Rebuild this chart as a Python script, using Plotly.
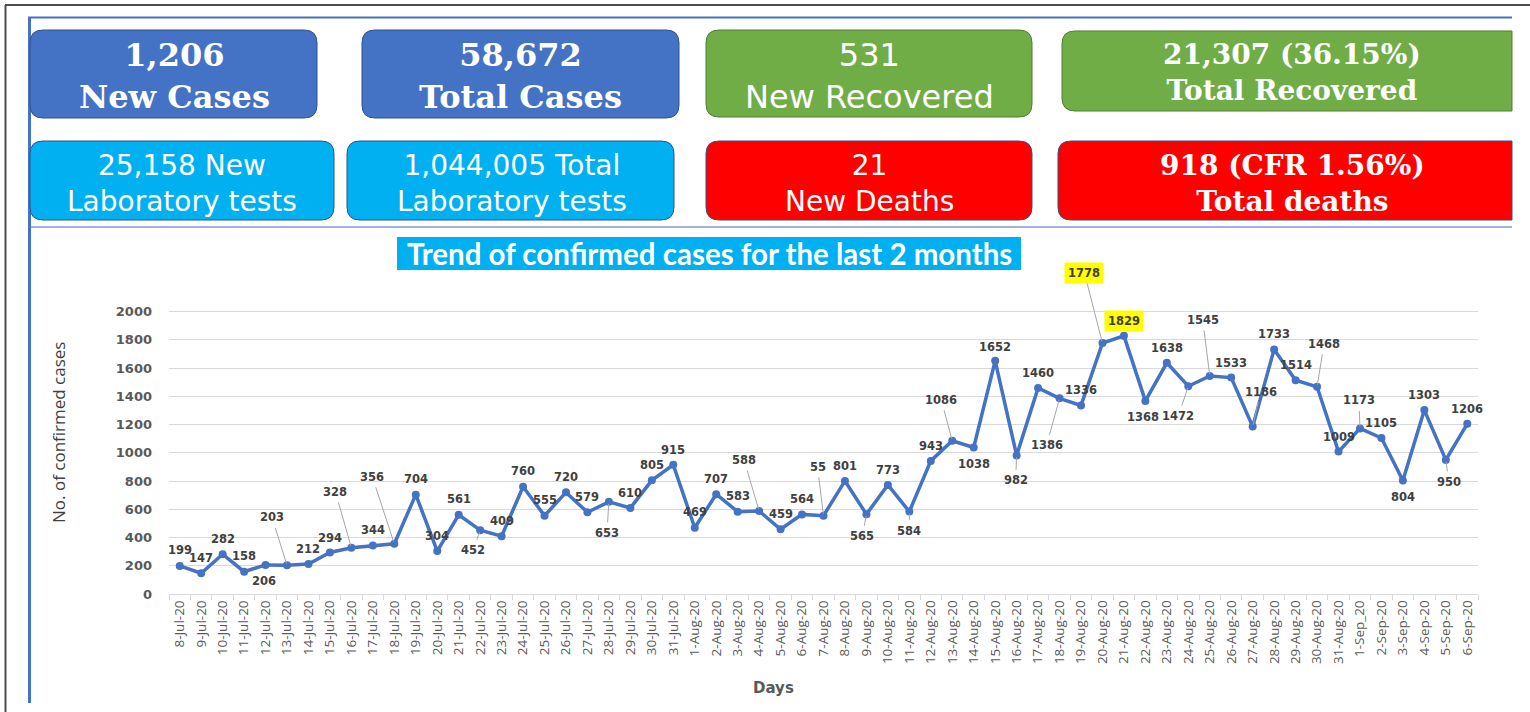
import plotly.graph_objects as go

W, H = 1530, 712

# ---------------- data ----------------
days = ["8-Jul-20", "9-Jul-20", "10-Jul-20", "11-Jul-20", "12-Jul-20", "13-Jul-20", "14-Jul-20",
        "15-Jul-20", "16-Jul-20", "17-Jul-20", "18-Jul-20", "19-Jul-20", "20-Jul-20", "21-Jul-20",
        "22-Jul-20", "23-Jul-20", "24-Jul-20", "25-Jul-20", "26-Jul-20", "27-Jul-20", "28-Jul-20",
        "29-Jul-20", "30-Jul-20", "31-Jul-20",
        "1-Aug-20", "2-Aug-20", "3-Aug-20", "4-Aug-20", "5-Aug-20", "6-Aug-20", "7-Aug-20",
        "8-Aug-20", "9-Aug-20", "10-Aug-20", "11-Aug-20", "12-Aug-20", "13-Aug-20", "14-Aug-20",
        "15-Aug-20", "16-Aug-20", "17-Aug-20", "18-Aug-20", "19-Aug-20", "20-Aug-20", "21-Aug-20",
        "22-Aug-20", "23-Aug-20", "24-Aug-20", "25-Aug-20", "26-Aug-20", "27-Aug-20", "28-Aug-20",
        "29-Aug-20", "30-Aug-20", "31-Aug-20",
        "1-Sep_20", "2-Sep-20", "3-Sep-20", "4-Sep-20", "5-Sep-20", "6-Sep-20"]

cases = [199, 147, 282, 158, 206, 203, 212, 294, 328, 344, 356, 704, 304, 561, 452, 409,
         760, 555, 720, 579, 653, 610, 805, 915,
         469, 707, 583, 588, 459, 564, 555, 801, 565, 773, 584, 943, 1086, 1038, 1652, 982,
         1460, 1386, 1336, 1778, 1829, 1368, 1638, 1472, 1545, 1533, 1186, 1733, 1514, 1468, 1009,
         1173, 1105, 804, 1303, 950, 1206]

label_text = [str(v) for v in cases]
label_text[30] = "55"          # label partly hidden in the original
highlighted = {"20-Aug-20", "21-Aug-20"}

y_ticks = [0, 200, 400, 600, 800, 1000, 1200, 1400, 1600, 1800, 2000]

card_values = ["1,206", "58,672", "531", "21,307 (36.15%)",
               "25,158 New", "1,044,005 Total", "21", "918 (CFR 1.56%)"]
card_labels = ["New Cases", "Total Cases", "New Recovered", "Total Recovered",
               "Laboratory tests", "Laboratory tests", "New Deaths", "Total deaths"]

chart_title = "Trend of confirmed cases for the last 2 months"
y_title = "No. of confirmed cases"
x_title = "Days"

# ---------------- label placement (pixel offsets, leader flag) ----------------
label_pos = [(0, -16, 0), (0, -15, 0), (0, -15, 0), (0, -16, 0), (-2, 16, 0), (-15, -48, 1),
             (0, -15, 0), (0, -15, 0), (-16, -56, 1), (0, -15, 0), (-22, -67, 1), (0, -16, 0),
             (0, -15, 0), (0, -16, 0), (-7, 20, 1), (0, -15, 0), (0, -16, 0), (0, -16, 0),
             (0, -15, 0), (0, -15, 0), (-2, 31, 1), (0, -15, 0), (0, -15, 0), (0, -15, 0),
             (0, -16, 0), (0, -15, 0), (0, -16, 0), (-15, -51, 1), (0, -15, 0), (0, -15, 0),
             (-6, -49, 1), (0, -15, 0), (-4, 22, 1), (0, -15, 0), (0, 19, 1), (0, -15, 0),
             (-11, -41, 1), (0, 17, 0), (0, -14, 0), (-1, 25, 1), (0, -15, 0), (-13, 47, 1),
             (0, -15, 0), (-18, -70, 1), (0, -15, 0), (-2, 16, 0), (0, -15, 0), (-10, 30, 1),
             (-7, -56, 1), (0, -15, 0), (8, -35, 1), (0, -15, 0), (0, -15, 0), (7, -43, 1),
             (0, -15, 0), (-1, -28, 1), (0, -15, 0), (0, 16, 0), (0, -15, 0), (3, 22, 1),
             (0, -15, 0)]

# ---------------- helpers ----------------
def px(xp):
    return xp / W


def py(yp):
    return 1 - yp / H


def rounded_path(x0, y0, x1, y1, r, square_right=False):
    def P(a, b):
        return f"{px(a):.6f},{py(b):.6f}"
    if square_right:
        return (f"M {P(x0 + r, y0)} L {P(x1, y0)} L {P(x1, y1)} L {P(x0 + r, y1)} "
                f"Q {P(x0, y1)} {P(x0, y1 - r)} L {P(x0, y0 + r)} Q {P(x0, y0)} {P(x0 + r, y0)} Z")
    return (f"M {P(x0 + r, y0)} L {P(x1 - r, y0)} Q {P(x1, y0)} {P(x1, y0 + r)} "
            f"L {P(x1, y1 - r)} Q {P(x1, y1)} {P(x1 - r, y1)} L {P(x0 + r, y1)} "
            f"Q {P(x0, y1)} {P(x0, y1 - r)} L {P(x0, y0 + r)} Q {P(x0, y0)} {P(x0 + r, y0)} Z")


BLUE = "#4472C4"
GREEN = "#70AD47"
CYAN = "#00B0F0"
RED = "#FF0000"

# card geometry: (x0, y0, x1, y1, fill, outline, square_right, text_cx, text_cy, style)
cards = [
    (30, 30, 317, 118, BLUE, "#2F528F", False, 174, 76, "serif"),
    (362, 30, 679, 118, BLUE, "#2F528F", False, 520, 76, "serif"),
    (706, 30, 1032, 117, GREEN, "#507E32", False, 869, 76, "sans"),
    (1062, 31, 1512, 111, GREEN, "#507E32", True, 1292, 72, "serif_s"),
    (30, 141, 334, 220, CYAN, "#2F528F", False, 182, 183, "sans_s"),
    (347, 141, 674, 220, CYAN, "#2F528F", False, 512, 183, "sans_s"),
    (706, 141, 1032, 220, RED, "#2F528F", False, 869, 183, "sans_s"),
    (1058, 141, 1512, 220, RED, "#2F528F", True, 1292, 183, "serif_s"),
]

fonts = {
    "serif": dict(family="DejaVu Serif", size=32, color="white"),
    "serif_s": dict(family="DejaVu Serif", size=28, color="white"),
    "sans": dict(family="DejaVu Sans", size=32, color="white"),
    "sans_s": dict(family="DejaVu Sans", size=28, color="white"),
}

shapes = []
annotations = []

# outer frame lines
shapes.append(dict(type="line", xref="paper", yref="paper", x0=px(5), x1=px(1530), y0=py(5), y1=py(5),
                   line=dict(color="#4D4D4D", width=2)))
shapes.append(dict(type="line", xref="paper", yref="paper", x0=px(5.5), x1=px(5.5), y0=py(5), y1=py(712),
                   line=dict(color="#4D4D4D", width=2)))
shapes.append(dict(type="line", xref="paper", yref="paper", x0=px(28), x1=px(1512), y0=py(17.5), y1=py(17.5),
                   line=dict(color="#4472C4", width=2)))
shapes.append(dict(type="line", xref="paper", yref="paper", x0=px(30), x1=px(1512), y0=py(227), y1=py(227),
                   line=dict(color="#9DB4E0", width=2)))
shapes.append(dict(type="line", xref="paper", yref="paper", x0=px(29.5), x1=px(29.5), y0=py(17), y1=py(703),
                   line=dict(color="#4472C4", width=3)))

for i, (x0, y0, x1, y1, fill, outline, sq, cx, cy, style) in enumerate(cards):
    shapes.append(dict(type="path", xref="paper", yref="paper",
                       path=rounded_path(x0, y0, x1, y1, 13, sq),
                       fillcolor=fill, line=dict(color=outline, width=1)))
    if style.startswith("serif"):
        txt = f"<b>{card_values[i]}</b><br><b>{card_labels[i]}</b>"
    else:
        txt = f"{card_values[i]}<br>{card_labels[i]}"
    annotations.append(dict(xref="paper", yref="paper", x=px(cx), y=py(cy), text=txt,
                            showarrow=False, xanchor="center", yanchor="middle", align="center",
                            font=fonts[style]))

# chart title box
shapes.append(dict(type="rect", xref="paper", yref="paper", x0=px(397), x1=px(1021), y0=py(237), y1=py(270),
                   fillcolor=CYAN, line=dict(width=0)))
annotations.append(dict(xref="paper", yref="paper", x=px(709), y=py(254), text=f"<b>{chart_title}</b>",
                        showarrow=False, xanchor="center", yanchor="middle",
                        font=dict(family="Lato", size=29.5, color="white")))

# axis titles
annotations.append(dict(xref="paper", yref="paper", x=px(59), y=py(433), text=y_title, textangle=-90,
                        showarrow=False, xanchor="center", yanchor="middle",
                        font=dict(family="Open Sans", size=17, color="#404040")))
annotations.append(dict(xref="paper", yref="paper", x=px(773), y=py(688), text=f"<b>{x_title}</b>",
                        showarrow=False, xanchor="center", yanchor="middle",
                        font=dict(family="DejaVu Sans", size=15, color="#595959")))

# data labels
for d, v, t, (dx, dy, leader) in zip(days, cases, label_text, label_pos):
    bg = "#FFFF00" if d in highlighted else "rgba(0,0,0,0)"
    base = dict(x=d, y=v, xref="x", yref="y", text=f"<b>{t}</b>", bgcolor=bg, borderpad=3,
                font=dict(family="DejaVu Sans", size=11.5, color="#404040"))
    if leader:
        base.update(showarrow=True, ax=dx, ay=dy, arrowhead=0, arrowwidth=1,
                    arrowcolor="#A6A6A6", standoff=2)
    else:
        base.update(showarrow=False, xshift=dx, yshift=-dy)
    annotations.append(base)

fig = go.Figure()
fig.add_trace(go.Scatter(x=days, y=cases, mode="lines+markers",
                         line=dict(color=BLUE, width=3.5),
                         marker=dict(color=BLUE, size=8),
                         hoverinfo="x+y", showlegend=False))

# y range: 0 at px 594, 2000 at px 311.7
ymax = 2100
per_px = (594 - 311.7) / 2000
top_px = 594 - ymax * per_px

fig.update_layout(
    width=W, height=H,
    margin=dict(l=0, r=0, t=0, b=0),
    paper_bgcolor="white", plot_bgcolor="white",
    template="none",
    shapes=shapes, annotations=annotations,
    xaxis=dict(domain=[169 / W, 1478 / W], type="category", categoryorder="array",
               categoryarray=days, range=[-0.5, len(days) - 0.5],
               tickangle=-90, tickson="boundaries", ticks="outside", ticklen=5,
               tickcolor="#D9D9D9", showline=True, linecolor="#D9D9D9", linewidth=1,
               showgrid=False, automargin=False,
               tickfont=dict(family="Open Sans", size=13.5, color="#595959")),
    yaxis=dict(domain=[(H - 594) / H, (H - top_px) / H], range=[0, ymax],
               tickvals=y_ticks, ticktext=[f"<b>{v}</b>" for v in y_ticks],
               showgrid=True, gridcolor="#D9D9D9", gridwidth=1, zeroline=False,
               showline=False, ticks="", ticklabelstandoff=16, automargin=False,
               tickfont=dict(family="DejaVu Sans", size=13, color="#595959")),
)

fig.write_html("out.html", config={"displayModeBar": False},
               post_script="document.body.style.margin='0';")
